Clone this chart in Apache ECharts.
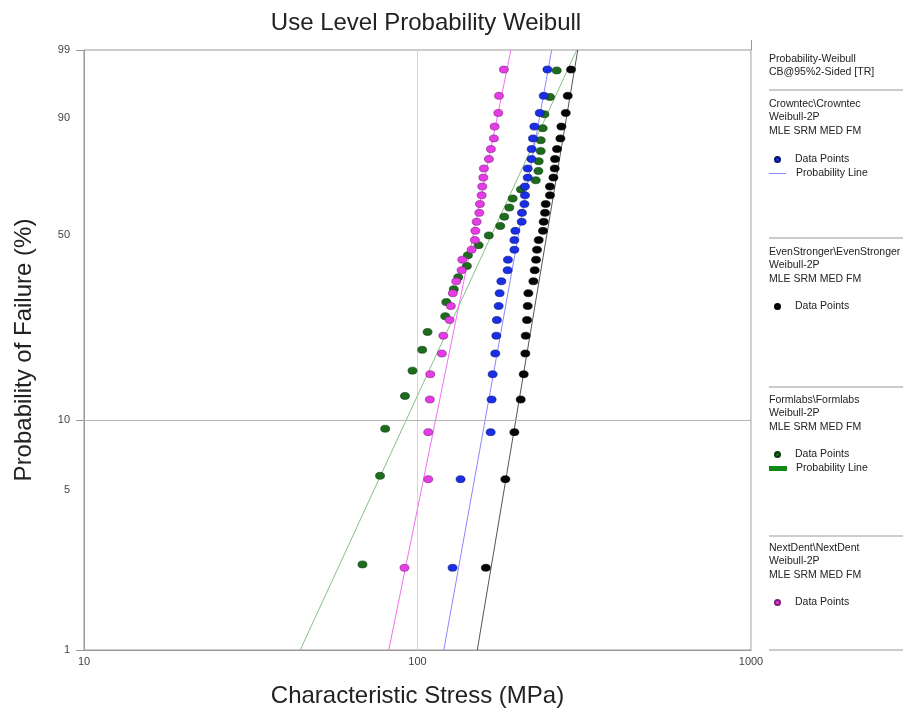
<html>

<head>
    <meta charset='utf-8' />
    <title>Use Level Probability Weibull</title>
    <style>
        body {
            margin: 0;
            padding: 0;
            background: #fff;
        }

        #chart {
            position: absolute;
            top: 0;
            left: 0;
            width: 903px;
            height: 712px;
        }
    </style>
</head>

<body>
    <div id='chart'></div>
    <script type="text/javascript" src="https://cdn.jsdelivr.net/npm/echarts/dist/echarts.min.js"></script>
    <script type="text/javascript">

        // median rank plotting positions (%), n = 30 and n = 29
        var rank30 = [2.30, 5.59, 8.88, 12.17, 15.46, 18.75, 22.04, 25.33, 28.62, 31.91,
            35.20, 38.49, 41.78, 45.07, 48.36, 51.64, 54.93, 58.22, 61.51, 64.80,
            68.09, 71.38, 74.67, 77.96, 81.25, 84.54, 87.83, 91.12, 94.41, 97.70];
        var rank29 = [2.38, 5.78, 9.18, 12.59, 15.99, 19.39, 22.79, 26.19, 29.59, 32.99,
            36.39, 39.80, 43.20, 46.60, 50.00, 53.40, 56.80, 60.20, 63.61, 67.01,
            70.41, 73.81, 77.21, 80.61, 84.01, 87.41, 90.82, 94.22, 97.62];

        // stress at failure (MPa), sorted
        var crowntecStress = [127.4, 134.6, 165.7, 166.8, 168.0, 171.1, 172.3, 173.0, 175.1, 176.3,
            178.4, 186.3, 186.7, 195.2, 195.2, 196.5, 205.3, 205.7, 209.2, 210.0,
            210.0, 214.0, 214.0, 219.5, 219.9, 221.9, 224.1, 232.5, 239.0, 245.2];
        var evenStrongerStress = [160.3, 183.4, 195.2, 203.9, 208.2, 210.6, 211.1, 213.0, 214.0, 215.0,
            222.6, 224.6, 226.7, 228.2, 230.9, 237.8, 239.0, 241.2, 242.3, 249.6,
            249.6, 255.6, 257.9, 258.4, 262.0, 268.2, 270.1, 278.3, 282.2, 288.7];
        var formlabsStress = [68.4, 77.2, 80.0, 91.7, 96.6, 103.3, 107.2, 121.1, 122.0, 128.5,
            132.5, 140.6, 141.6, 152.5, 163.6, 177.1, 182.1, 188.5, 192.9, 204.3,
            226.2, 230.4, 230.9, 234.1, 234.1, 237.3, 240.2, 249.6, 261.5];
        var nextDentStress = [91.4, 107.7, 107.7, 108.9, 109.2, 118.3, 119.5, 124.8, 125.9, 127.6,
            130.7, 135.6, 136.2, 145.3, 148.6, 149.1, 150.4, 153.2, 153.9, 155.7,
            156.4, 157.5, 158.2, 163.7, 166.0, 169.5, 170.3, 174.7, 175.5, 181.6];

        // fitted probability lines: [stress, %] at both ends
        var crowntecLine = [[119.9, 1], [252.5, 99]];
        var evenStrongerLine = [[151.1, 1], [302.4, 99]];
        var formlabsLine = [[44.5, 1], [300.3, 99]];
        var nextDentLine = [[82.0, 1], [190.6, 99]];

        var yLabelPct = [1, 5, 10, 50, 90, 99];
        var yTickPct = [1, 10, 99];
        var yGridPct = 10;

        // Weibull probability scale
        function wb(pct) {
            return Math.log(-Math.log(1 - pct / 100));
        }

        function points(stress, ranks) {
            return stress.map(function (x, i) { return [x, wb(ranks[i])]; });
        }

        function line(ends) {
            return ends.map(function (p) { return [p[0], wb(p[1])]; });
        }

        var smallFont = '"Liberation Sans", sans-serif';

        function legendItem(name, label, left, top, icon, w, h, pad) {
            return {
                show: true,
                selectedMode: false,
                left: left,
                top: top,
                padding: 0,
                itemWidth: w,
                itemHeight: h,
                data: [{ name: name, icon: icon }],
                formatter: function () { return label; },
                textStyle: { fontFamily: smallFont, fontSize: 10.5, color: '#222', padding: [0, 0, 0, pad] }
            };
        }

        function headText(y, txt) {
            return {
                type: 'text',
                left: 769,
                top: y,
                style: { text: txt, font: '10.5px ' + smallFont, fill: '#222', lineHeight: 13.5 }
            };
        }

        function sep(y) {
            return {
                type: 'line',
                shape: { x1: 769, y1: y, x2: 903, y2: y },
                style: { stroke: '#999', lineWidth: 1 }
            };
        }

        var myChart = echarts.init(document.getElementById('chart'));

        myChart.setOption({
            backgroundColor: '#fff',
            animation: false,
            title: {
                text: 'Use Level Probability Weibull',
                left: 421,
                top: 6,
                textAlign: 'center',
                textStyle: { fontFamily: 'Liberation Sans, Arial, sans-serif', fontSize: 24, fontWeight: 'normal', color: '#222' }
            },
            grid: {
                left: 84,
                right: 152,
                top: 50,
                bottom: 62,
                show: true,
                borderColor: '#999',
                borderWidth: 1,
                containLabel: false,
                outerBoundsMode: 'none'
            },
            xAxis: {
                type: 'log',
                logBase: 10,
                min: 10,
                max: 1000,
                name: 'Characteristic Stress (MPa)',
                nameLocation: 'middle',
                nameGap: 34,
                nameTextStyle: { fontFamily: 'Liberation Sans, Arial, sans-serif', fontSize: 24, color: '#222' },
                axisLine: { onZero: false, lineStyle: { color: '#999' } },
                axisTick: { show: false },
                axisLabel: {
                    margin: 6, color: '#444', fontSize: 11, fontFamily: 'Liberation Sans, Arial, sans-serif',
                    formatter: function (v) { return String(Math.round(v)); }
                },
                splitLine: { show: true, lineStyle: { color: '#d4d4d4' } },
                minorSplitLine: { show: false }
            },
            yAxis: {
                type: 'value',
                min: wb(1),
                max: wb(99),
                name: 'Probability of Failure (%)',
                nameLocation: 'middle',
                nameRotate: 90,
                nameGap: 48,
                nameTextStyle: { fontFamily: 'Liberation Sans, Arial, sans-serif', fontSize: 24, color: '#222' },
                axisLine: { show: true, onZero: false, lineStyle: { color: '#999' } },
                axisTick: { show: true, length: 8, lineStyle: { color: '#999' }, customValues: yTickPct.map(wb) },
                axisLabel: {
                    margin: 14,
                    color: '#444',
                    fontSize: 11,
                    fontFamily: 'Liberation Sans, Arial, sans-serif',
                    customValues: yLabelPct.map(wb),
                    formatter: function (v) { return Math.round((1 - Math.exp(-Math.exp(v))) * 100); }
                },
                splitLine: { show: false }
            },
            legend: [
                legendItem('Crowntec Data Points', 'Data Points', 774, 154, 'circle', 7, 5, 9),
                legendItem('Crowntec Probability Line', 'Probability Line', 769, 168, 'rect', 17, 1, 5),
                legendItem('EvenStronger Data Points', 'Data Points', 774, 301, 'circle', 7, 5, 9),
                legendItem('Formlabs Data Points', 'Data Points', 774, 449, 'circle', 7, 5, 9),
                legendItem('Formlabs Probability Line', 'Probability Line', 769, 463, 'rect', 18, 5, 4),
                legendItem('NextDent Data Points', 'Data Points', 774, 597, 'circle', 7, 5, 9)
            ],
            graphic: [
                {
                    type: 'line',
                    shape: { x1: 751.5, y1: 40, x2: 751.5, y2: 50 },
                    style: { stroke: '#999', lineWidth: 1 }
                },
                headText(52, 'Probability-Weibull\nCB@95%2-Sided [TR]'),
                sep(90),
                headText(97, 'Crowntec\\Crowntec\nWeibull-2P\nMLE SRM MED FM'),
                sep(238),
                headText(245, 'EvenStronger\\EvenStronger\nWeibull-2P\nMLE SRM MED FM'),
                sep(387),
                headText(393, 'Formlabs\\Formlabs\nWeibull-2P\nMLE SRM MED FM'),
                sep(536),
                headText(541, 'NextDent\\NextDent\nWeibull-2P\nMLE SRM MED FM'),
                sep(650)
            ],
            series: [
                {
                    name: 'Formlabs Probability Line', type: 'line', data: line(formlabsLine),
                    showSymbol: false, symbol: 'none', color: '#118811',
                    lineStyle: { color: '#86c086', width: 1 }, z: 2, silent: true,
                    markLine: {
                        silent: true, symbol: 'none', label: { show: false },
                        lineStyle: { color: '#b4b4b4', type: 'solid', width: 1 },
                        data: [{ yAxis: wb(yGridPct) }]
                    }
                },
                {
                    name: 'NextDent Probability Line', type: 'line', data: line(nextDentLine),
                    showSymbol: false, symbol: 'none',
                    lineStyle: { color: '#f070f0', width: 1 }, z: 2, silent: true
                },
                {
                    name: 'Crowntec Probability Line', type: 'line', data: line(crowntecLine),
                    showSymbol: false, symbol: 'none', color: '#8888ff',
                    lineStyle: { color: '#8888ff', width: 1 }, z: 2, silent: true
                },
                {
                    name: 'EvenStronger Probability Line', type: 'line', data: line(evenStrongerLine),
                    showSymbol: false, symbol: 'none',
                    lineStyle: { color: '#555', width: 1 }, z: 2, silent: true
                },
                {
                    name: 'Formlabs Data Points', type: 'scatter', data: points(formlabsStress, rank29),
                    symbol: 'circle', symbolSize: [9, 7], z: 3,
                    itemStyle: { color: '#1d6b1d', borderColor: '#0c3a0c', borderWidth: 0.6, opacity: 1 }
                },
                {
                    name: 'NextDent Data Points', type: 'scatter', data: points(nextDentStress, rank30),
                    symbol: 'circle', symbolSize: [9, 7], z: 3,
                    itemStyle: { color: '#e63ce6', borderColor: '#7a207a', borderWidth: 0.6, opacity: 1 }
                },
                {
                    name: 'Crowntec Data Points', type: 'scatter', data: points(crowntecStress, rank30),
                    symbol: 'circle', symbolSize: [9, 7], z: 3,
                    itemStyle: { color: '#1a2ee6', borderColor: '#0a1470', borderWidth: 0.6, opacity: 1 }
                },
                {
                    name: 'EvenStronger Data Points', type: 'scatter', data: points(evenStrongerStress, rank30),
                    symbol: 'circle', symbolSize: [9, 7], z: 3,
                    itemStyle: { color: '#050505', borderColor: '#000', borderWidth: 0.6, opacity: 1 }
                }
            ]
        });

    </script>
</body>

</html>
